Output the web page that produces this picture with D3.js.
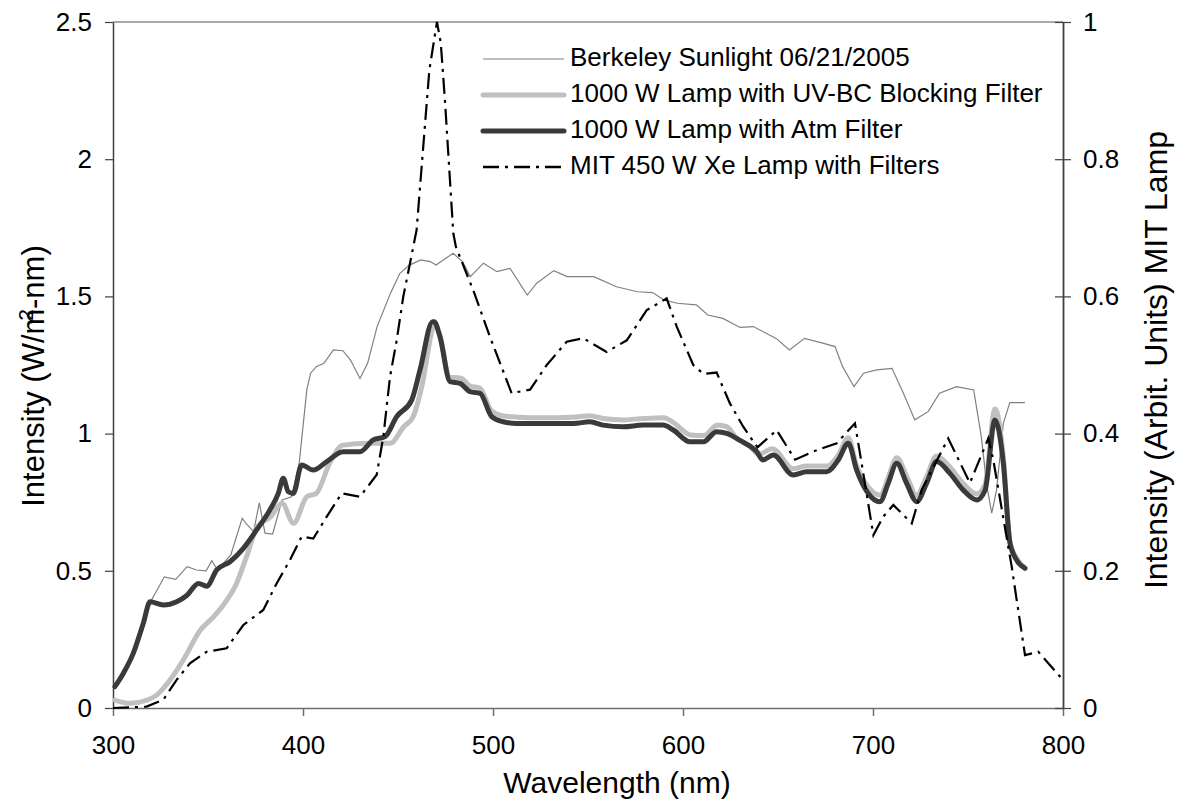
<!DOCTYPE html>
<html>
<head>
<meta charset="utf-8">
<script src="https://cdn.jsdelivr.net/npm/d3@7"></script>
<style>
  body { margin: 0; background: #fff; }
  svg { font-family: "Liberation Sans", Arial, sans-serif; }
</style>
</head>
<body>
<div id="chart"></div>
<script>
// Berkeley sunlight, left axis (W/m2-nm)
var sunlight = [
  [301, 0.08], [306, 0.13], [311, 0.20], [316, 0.31], [320, 0.39], [324, 0.44],
  [327, 0.478], [333, 0.469], [339, 0.515], [344, 0.503], [349, 0.50], [352, 0.537],
  [355, 0.503], [362, 0.558], [368, 0.691], [370, 0.673], [374, 0.643], [377, 0.748],
  [380, 0.637], [384, 0.634], [389, 0.758], [394, 0.770], [398, 0.892], [402, 1.159],
  [404, 1.220], [407, 1.244], [411, 1.256], [416, 1.305], [421, 1.302], [425, 1.268],
  [430, 1.201], [434, 1.256], [439, 1.390], [446, 1.511], [451, 1.584], [456, 1.614],
  [462, 1.633], [467, 1.627], [470, 1.614], [479, 1.657], [484, 1.627], [488, 1.572],
  [495, 1.621], [502, 1.590], [509, 1.602], [518, 1.505], [523, 1.548], [532, 1.594],
  [539, 1.572], [553, 1.572], [565, 1.535], [576, 1.517], [584, 1.514], [590, 1.487],
  [597, 1.475], [607, 1.469], [613, 1.432], [621, 1.420], [630, 1.387], [637, 1.390],
  [649, 1.347], [656, 1.305], [664, 1.347], [674, 1.329], [680, 1.317], [684, 1.244],
  [690, 1.171], [695, 1.220], [702, 1.232], [710, 1.238], [716, 1.147], [722, 1.050],
  [729, 1.080], [735, 1.147], [744, 1.171], [753, 1.159], [757, 0.989], [760, 0.806],
  [762.5, 0.710], [765, 0.794], [768.6, 1.037], [772, 1.113], [780, 1.113]
];

// 1000 W lamp with UV-BC blocking filter, left axis
var lampUV = [
  [301, 0.029], [309, 0.017], [318, 0.029], [323, 0.047], [330, 0.102], [337, 0.175],
  [346, 0.284], [353, 0.333], [360, 0.394], [365, 0.454], [370, 0.546], [376, 0.661],
  [383, 0.697], [389, 0.746], [395, 0.673], [402, 0.770], [407, 0.782], [414, 0.892],
  [421, 0.958], [435, 0.965], [446, 0.965], [453, 1.025], [458, 1.062], [462.5, 1.171],
  [468, 1.378], [469, 1.40], [472, 1.36], [477, 1.205], [483, 1.203], [488, 1.173],
  [493, 1.167], [499, 1.085], [505, 1.065], [513, 1.060], [525, 1.058], [542, 1.060],
  [551, 1.065], [558, 1.055], [569, 1.050], [579, 1.055], [590, 1.058], [595, 1.040],
  [604, 0.995], [611, 0.993], [618, 1.030], [623, 1.025], [628, 0.985], [635, 0.955],
  [640, 0.925], [647, 0.945], [658, 0.872], [665, 0.882], [676, 0.882], [682, 0.925],
  [687, 0.985], [691, 0.890], [697.5, 0.805], [704, 0.775], [708, 0.840], [712.5, 0.912],
  [718, 0.840], [723, 0.775], [728, 0.840], [733.5, 0.918], [740.5, 0.878], [747.5, 0.818],
  [754.6, 0.780], [759, 0.815], [764.2, 1.090], [768.6, 0.915], [772, 0.610], [775.6, 0.545],
  [780, 0.512]
];

// 1000 W lamp with Atm filter, left axis
var lampAtm = [
  [301, 0.078], [305.4, 0.126], [310.7, 0.200], [316, 0.310], [319.5, 0.387], [326.5, 0.375],
  [333.5, 0.387], [338.8, 0.410], [345, 0.454], [349.3, 0.444], [354.6, 0.503], [361.6, 0.533],
  [368.6, 0.582], [375.6, 0.649], [382.6, 0.722], [387, 0.782], [389.6, 0.837], [392.3, 0.788],
  [394.9, 0.782], [399.3, 0.886], [405.4, 0.867], [412.5, 0.898], [421.2, 0.934], [430, 0.934],
  [437, 0.977], [443.2, 0.989], [449.3, 1.062], [457.2, 1.122], [461.6, 1.232], [468.2, 1.408],
  [469, 1.408], [472.1, 1.353], [477.4, 1.189], [482.6, 1.183], [487.9, 1.153], [493.2, 1.147],
  [499.3, 1.062], [505.4, 1.043], [512.5, 1.037], [524.7, 1.037], [542.3, 1.037], [551, 1.043],
  [558, 1.031], [568.6, 1.025], [579, 1.031], [589.6, 1.031], [594.9, 1.013], [603.7, 0.970],
  [610.7, 0.970], [617.7, 1.007], [623, 1.001], [630, 0.975], [638.8, 0.934], [642, 0.904],
  [647.5, 0.922], [658, 0.849], [665, 0.861], [675.6, 0.861], [681.7, 0.904], [687, 0.965],
  [691.4, 0.867], [697.5, 0.782], [703.7, 0.752], [708, 0.819], [712.5, 0.892], [717.7, 0.819],
  [723, 0.752], [728.2, 0.819], [733.5, 0.898], [740.5, 0.855], [747.5, 0.794], [754.6, 0.758],
  [759, 0.794], [764.2, 1.050], [768.6, 0.892], [772.1, 0.600], [775.6, 0.539], [780, 0.509]
];

// MIT 450 W Xe lamp with filters, right axis (arbitrary units)
var mitLamp = [
  [300, 0.0], [317.7, 0.002], [326.5, 0.012], [333.5, 0.041], [340.5, 0.065], [349.3, 0.082],
  [359.8, 0.087], [368.6, 0.121], [379.1, 0.143], [386.2, 0.182], [393.2, 0.216], [399.3, 0.250],
  [405.4, 0.247], [412.5, 0.279], [420.4, 0.313], [430, 0.308], [438.8, 0.340], [442.3, 0.396],
  [445.8, 0.483], [449.3, 0.536], [452.8, 0.600], [456.3, 0.648], [459.8, 0.697], [466.5, 0.93],
  [470.5, 1.0], [472.5, 0.97], [474.7, 0.886], [479.1, 0.692], [480.5, 0.672], [489.6, 0.609],
  [498.4, 0.541], [509.8, 0.459], [519.5, 0.464], [528.3, 0.500], [538.8, 0.534], [547.5, 0.539],
  [559.8, 0.519], [570.4, 0.536], [580.9, 0.580], [591.4, 0.597], [596.7, 0.556], [605.4, 0.500],
  [610.7, 0.487], [617.7, 0.489], [624.7, 0.444], [631.7, 0.410], [639.2, 0.380], [649.3, 0.405],
  [659, 0.362], [668.6, 0.374], [680.9, 0.386], [690.5, 0.415], [694, 0.357], [700.2, 0.252],
  [705.4, 0.279], [710.7, 0.296], [720.4, 0.269], [725.6, 0.318], [739.6, 0.393], [751, 0.328],
  [760.7, 0.393], [763.3, 0.362], [773, 0.206], [780, 0.077], [787, 0.082], [800, 0.041]
];

var xTicks = [300, 400, 500, 600, 700, 800];
var yLeftTicks = [0, 0.5, 1, 1.5, 2, 2.5];
var yRightTicks = [0, 0.2, 0.4, 0.6, 0.8, 1];
var legendLabels = [
  "Berkeley Sunlight 06/21/2005",
  "1000 W Lamp with UV-BC Blocking Filter",
  "1000 W Lamp with Atm Filter",
  "MIT 450 W Xe Lamp with Filters"
];

var W = 1181, H = 803;
var plotL = 113, plotR = 1063, plotT = 22, plotB = 708;

var svg = d3.select("#chart").append("svg")
  .attr("width", W)
  .attr("height", H);

var x = d3.scaleLinear().domain([300, 800]).range([plotL, plotR]);
var yL = d3.scaleLinear().domain([0, 2.5]).range([plotB, plotT]);
var yR = d3.scaleLinear().domain([0, 1]).range([plotB, plotT]);

// frame top line
svg.append("line")
  .attr("x1", plotL).attr("x2", plotR)
  .attr("y1", plotT).attr("y2", plotT)
  .attr("stroke", "#8c8c8c").attr("stroke-width", 1.5);

// axes
var gx = svg.append("g")
  .attr("transform", `translate(0,${plotB})`)
  .call(d3.axisBottom(x).tickValues(xTicks).tickSizeInner(8).tickSizeOuter(0).tickPadding(20));
gx.select(".domain").attr("stroke", "#6e6e6e").attr("stroke-width", 1.5);
gx.selectAll(".tick line").attr("stroke", "#6e6e6e").attr("stroke-width", 1.5);

var gl = svg.append("g")
  .attr("transform", `translate(${plotL},0)`)
  .call(d3.axisLeft(yL).tickValues(yLeftTicks).tickFormat(String).tickSizeInner(8).tickSizeOuter(0).tickPadding(13));
gl.select(".domain").attr("stroke", "#404040").attr("stroke-width", 1.5);
gl.selectAll(".tick line").attr("stroke", "#404040").attr("stroke-width", 1.2);

var gr = svg.append("g")
  .attr("transform", `translate(${plotR},0)`)
  .call(d3.axisRight(yR).tickValues(yRightTicks).tickFormat(String).tickSizeInner(8).tickSizeOuter(0).tickPadding(12));
gr.select(".domain").attr("stroke", "#404040").attr("stroke-width", 1.8);
gr.selectAll(".tick line").attr("x1", -8).attr("stroke", "#404040").attr("stroke-width", 1.2);

svg.selectAll(".tick text")
  .attr("font-family", "'Liberation Sans', Arial, sans-serif")
  .attr("font-size", 26)
  .attr("fill", "#000");

// series
var lineL = d3.line().x(d => x(d[0])).y(d => yL(d[1]));
var smoothL = d3.line().x(d => x(d[0])).y(d => yL(d[1])).curve(d3.curveMonotoneX);
var lineR = d3.line().x(d => x(d[0])).y(d => yR(d[1]));

svg.append("path")
  .attr("d", lineL(sunlight))
  .attr("fill", "none")
  .attr("stroke", "#808080")
  .attr("stroke-width", 1.2);

svg.append("path")
  .attr("d", smoothL(lampUV))
  .attr("fill", "none")
  .attr("stroke", "#c0c0c0")
  .attr("stroke-width", 5)
  .attr("stroke-linejoin", "round")
  .attr("stroke-linecap", "round");

svg.append("path")
  .attr("d", smoothL(lampAtm))
  .attr("fill", "none")
  .attr("stroke", "#3a3a3a")
  .attr("stroke-width", 5)
  .attr("stroke-linejoin", "round")
  .attr("stroke-linecap", "round");

svg.append("path")
  .attr("d", lineR(mitLamp))
  .attr("fill", "none")
  .attr("stroke", "#000")
  .attr("stroke-width", 2.2)
  .attr("stroke-dasharray", "16,6,3,6");

// legend
var legendStyles = [
  {stroke: "#808080", width: 1.2, dash: null, cap: "butt"},
  {stroke: "#c0c0c0", width: 5, dash: null, cap: "round"},
  {stroke: "#3a3a3a", width: 5, dash: null, cap: "round"},
  {stroke: "#000", width: 2.5, dash: "16,6,3,6", cap: "butt"}
];
var legend = svg.append("g").attr("transform", "translate(483,66)");
legendLabels.forEach(function(label, i) {
  var row = legend.append("g").attr("transform", `translate(0,${i * 36})`);
  var s = legendStyles[i];
  row.append("line")
    .attr("x1", 0).attr("x2", 81)
    .attr("y1", -7).attr("y2", -7)
    .attr("stroke", s.stroke)
    .attr("stroke-width", s.width)
    .attr("stroke-linecap", s.cap)
    .attr("stroke-dasharray", s.dash);
  row.append("text")
    .attr("x", 87)
    .attr("y", 0)
    .attr("font-size", 26)
    .text(label);
});

// axis titles
svg.append("text")
  .attr("x", 617).attr("y", 793)
  .attr("text-anchor", "middle")
  .attr("font-size", 30)
  .text("Wavelength (nm)");

var yTitle = svg.append("text")
  .attr("transform", "translate(44,376) rotate(-90)")
  .attr("text-anchor", "middle")
  .attr("font-size", 31);
yTitle.append("tspan").text("Intensity (W/m");
yTitle.append("tspan").attr("dx", -12).attr("dy", -11).attr("font-size", 21).text("2");
yTitle.append("tspan").attr("dy", 11).text("-nm)");

svg.append("text")
  .attr("transform", "translate(1167,360) rotate(-90)")
  .attr("text-anchor", "middle")
  .attr("font-size", 32)
  .text("Intensity (Arbit. Units) MIT Lamp");
</script>
</body>
</html>
